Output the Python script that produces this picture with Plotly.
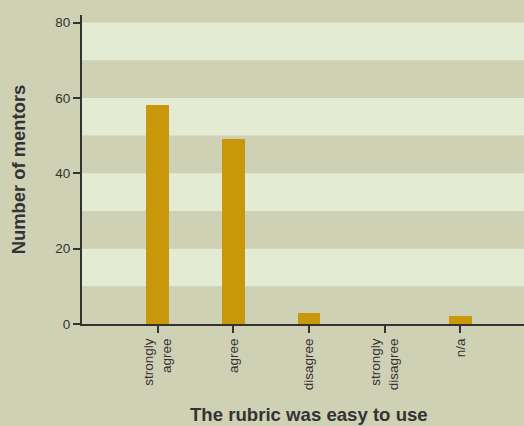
import plotly.graph_objects as go

categories = ["strongly<br>agree", "agree", "disagree", "strongly<br>disagree", "n/a"]
counts = [58, 49, 3, 0, 2]
y_ticks = [0, 20, 40, 60, 80]
light_bands = [(10, 20), (30, 40), (50, 60), (70, 80)]

bg = "#cfd1b4"
band = "#e3ebd2"
bar_color = "#c8970a"

fig = go.Figure(go.Bar(
    x=list(range(len(categories))), y=counts,
    marker=dict(color=bar_color, line=dict(width=0)),
    width=0.30,
))

for lo, hi in light_bands:
    fig.add_shape(type="rect", xref="paper", yref="y", x0=0, x1=1, y0=lo, y1=hi,
                  fillcolor=band, line=dict(width=0), layer="below")

fig.update_layout(
    width=524, height=426,
    margin=dict(l=82, r=0, t=15, b=102),
    paper_bgcolor=bg, plot_bgcolor=bg,
    font=dict(family="Liberation Sans, Arial, sans-serif", size=13.5, color="#333333"),
    showlegend=False,
    bargap=0,
)
fig.update_xaxes(
    range=[-1, 4.84], tickmode="array", tickvals=list(range(len(categories))),
    ticktext=categories, tickangle=-90, ticks="outside", ticklen=7, tickwidth=2,
    tickcolor="#333333", showline=True, linecolor="#333333", linewidth=2,
    showgrid=False, zeroline=False,
)
fig.update_yaxes(
    range=[0, 82], tickvals=y_ticks, ticks="outside", ticklen=7, tickwidth=2,
    tickcolor="#333333", showline=True, linecolor="#333333", linewidth=2,
    showgrid=False, zeroline=False,
    title=dict(text="<b>Number of mentors</b>", font=dict(size=18.4, color="#333333"), standoff=25),
)
fig.add_annotation(
    text="<b>The rubric was easy to use</b>", xref="paper", yref="paper",
    x=0.5136, y=0, yshift=-103, xanchor="center", yanchor="bottom", showarrow=False,
    font=dict(size=18.6, color="#333333"),
)

fig.write_html("out.html", config={"displayModeBar": False},
               post_script="document.body.style.margin='0';document.body.style.background='%s';" % bg)
